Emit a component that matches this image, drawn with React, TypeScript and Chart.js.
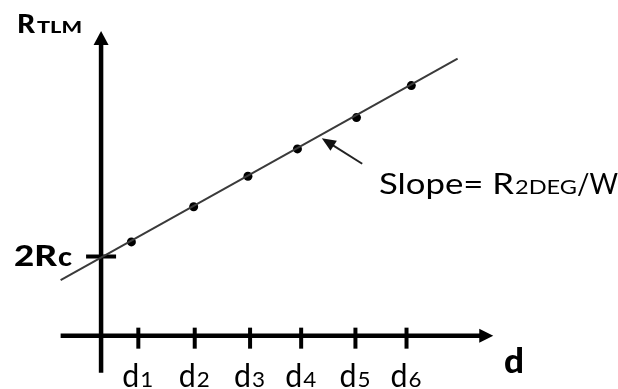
import React, { useEffect, useRef } from "react";
import { Chart, registerables } from "chart.js";

Chart.register(...registerables);

// ---- data (arbitrary schematic units) ----
const categories = ["d1", "d2", "d3", "d4", "d5", "d6"];
const tickValues = [0.7, 1.76, 2.8, 3.76, 4.78, 5.74];
const pointX = [0.57, 1.74, 2.76, 3.69, 4.8, 5.83];
const pointY = [2.4, 3.3, 4.08, 4.78, 5.58, 6.4];
const fitX = [-0.76, 6.7];
const fitY = [1.42, 7.09];
const intercept = 2; // 2Rc
const slopeArrowFrom = { x: 4.907, y: 4.4 };
const slopeArrowTo = { x: 4.148, y: 5.05 };

const X_MIN = -1.8148;
const X_MAX = 9.6296;
const Y_MIN = -1.25;
const Y_MAX = 8.475;

const FONT = "Lato";

function fitText(ctx: CanvasRenderingContext2D, text: string, font: string, x: number, baseline: number, width: number) {
  ctx.font = font;
  const m = ctx.measureText(text).width || 1;
  ctx.save();
  ctx.translate(x, baseline);
  ctx.scale(width / m, 1);
  ctx.fillText(text, 0, 0);
  ctx.restore();
}

const diagramPlugin = {
  id: "diagram",
  beforeDatasetsDraw(chart: any) {
    const ctx: CanvasRenderingContext2D = chart.ctx;
    const xs = chart.scales.x;
    const ys = chart.scales.y;
    const px = (v: number) => xs.getPixelForValue(v);
    const py = (v: number) => ys.getPixelForValue(v);
    ctx.save();
    ctx.strokeStyle = "#000";
    ctx.fillStyle = "#000";
    ctx.lineCap = "butt";
    // vertical axis
    ctx.lineWidth = 4.5;
    ctx.beginPath();
    ctx.moveTo(px(0), py(-0.95));
    ctx.lineTo(px(0), py(7.8) + 12);
    ctx.stroke();
    ctx.beginPath();
    ctx.moveTo(px(0), py(7.8));
    ctx.lineTo(px(0) - 7.5, py(7.8) + 14);
    ctx.lineTo(px(0) + 7.5, py(7.8) + 14);
    ctx.closePath();
    ctx.fill();
    // horizontal axis
    ctx.lineWidth = 4.5;
    ctx.beginPath();
    ctx.moveTo(px(-0.76), py(0));
    ctx.lineTo(px(7.37) - 12, py(0));
    ctx.stroke();
    ctx.beginPath();
    ctx.moveTo(px(7.37), py(0));
    ctx.lineTo(px(7.37) - 14, py(0) - 7);
    ctx.lineTo(px(7.37) - 14, py(0) + 7);
    ctx.closePath();
    ctx.fill();
    // d ticks
    ctx.lineWidth = 4;
    tickValues.forEach((v) => {
      ctx.beginPath();
      ctx.moveTo(px(v), py(0) - 8);
      ctx.lineTo(px(v), py(0) + 13);
      ctx.stroke();
    });
    // 2Rc tick
    ctx.lineWidth = 4;
    ctx.beginPath();
    ctx.moveTo(px(0) - 15, py(intercept) - 1);
    ctx.lineTo(px(0) + 15, py(intercept) - 1);
    ctx.stroke();
    ctx.restore();
  },
  afterDraw(chart: any) {
    const ctx: CanvasRenderingContext2D = chart.ctx;
    const xs = chart.scales.x;
    const ys = chart.scales.y;
    const px = (v: number) => xs.getPixelForValue(v);
    const py = (v: number) => ys.getPixelForValue(v);
    ctx.save();
    ctx.fillStyle = "#000";
    ctx.strokeStyle = "#222";
    ctx.textBaseline = "alphabetic";
    ctx.textAlign = "left";

    // slope arrow
    const x1 = px(slopeArrowFrom.x), y1 = py(slopeArrowFrom.y);
    const x2 = px(slopeArrowTo.x), y2 = py(slopeArrowTo.y);
    const ang = Math.atan2(y2 - y1, x2 - x1);
    ctx.lineWidth = 2;
    ctx.beginPath();
    ctx.moveTo(x1, y1);
    ctx.lineTo(x2 - Math.cos(ang) * 10, y2 - Math.sin(ang) * 10);
    ctx.stroke();
    ctx.beginPath();
    ctx.moveTo(x2, y2);
    ctx.lineTo(x2 - Math.cos(ang) * 14 + Math.sin(ang) * 6, y2 - Math.sin(ang) * 14 - Math.cos(ang) * 6);
    ctx.lineTo(x2 - Math.cos(ang) * 14 - Math.sin(ang) * 6, y2 - Math.sin(ang) * 14 + Math.cos(ang) * 6);
    ctx.closePath();
    ctx.fillStyle = "#111";
    ctx.fill();
    ctx.fillStyle = "#000";

    // R_TLM label
    fitText(ctx, "R", `900 26px ${FONT}`, 17, 33, 18);
    fitText(ctx, "TLM", `900 17px ${FONT}`, 37, 33, 45);

    // 2Rc label
    fitText(ctx, "2R", `900 28px ${FONT}`, 14, 266, 43);
    fitText(ctx, "c", `900 26px ${FONT}`, 58, 266, 14);

    // Slope label
    fitText(ctx, "Slope= R", `400 29px ${FONT}`, 379, 194, 135);
    fitText(ctx, "2DEG", `400 20px ${FONT}`, 515, 194, 62);
    fitText(ctx, "/W", `400 29px ${FONT}`, 577, 194, 41);

    // d axis label
    fitText(ctx, "d", `900 34px ${FONT}`, 504, 373, 20);

    // d tick labels
    categories.forEach((c, i) => {
      const cx = px(tickValues[i]);
      const left = cx - 15;
      fitText(ctx, c.slice(0, 1), `400 33px ${FONT}`, left - 1, 387, 17);
      fitText(ctx, c.slice(1), `400 21px ${FONT}`, left + 17, 387, 13);
    });
    ctx.restore();
  },
};

export default function App() {
  const ref = useRef<HTMLCanvasElement | null>(null);
  useEffect(() => {
    if (!ref.current) return;
    const chart = new Chart(ref.current, {
      type: "scatter",
      data: {
        datasets: [
          {
            label: "fit",
            data: fitX.map((x, i) => ({ x, y: fitY[i] })),
            showLine: true,
            borderColor: "#3a3a3a",
            borderWidth: 2,
            pointRadius: 0,
            fill: false,
          },
          {
            label: "points",
            data: pointX.map((x, i) => ({ x, y: pointY[i] })),
            pointRadius: 4.5,
            pointBackgroundColor: "#000",
            pointBorderColor: "#000",
            pointBorderWidth: 0,
          },
        ],
      },
      options: {
        animation: false,
        responsive: false,
        maintainAspectRatio: false,
        layout: { padding: 0 },
        plugins: { legend: { display: false }, tooltip: { enabled: false } },
        events: [],
        scales: {
          x: { type: "linear", display: false, min: X_MIN, max: X_MAX },
          y: { type: "linear", display: false, min: Y_MIN, max: Y_MAX },
        },
      } as any,
      plugins: [diagramPlugin],
    });
    let alive = true;
    const fonts: any = (document as any).fonts;
    if (fonts && fonts.load) {
      Promise.all([
        fonts.load(`400 29px ${FONT}`),
        fonts.load(`900 29px ${FONT}`),
        fonts.load(`700 29px ${FONT}`),
      ]).then(() => {
        if (alive) chart.draw();
      }).catch(() => {});
    }
    return () => {
      alive = false;
      chart.destroy();
    };
  }, []);
  return (
    <div style={{ position: "fixed", left: 0, top: 0, width: 618, height: 389, background: "#fff" }}>
      <canvas ref={ref} width={618} height={389} style={{ display: "block" }} />
    </div>
  );
}
